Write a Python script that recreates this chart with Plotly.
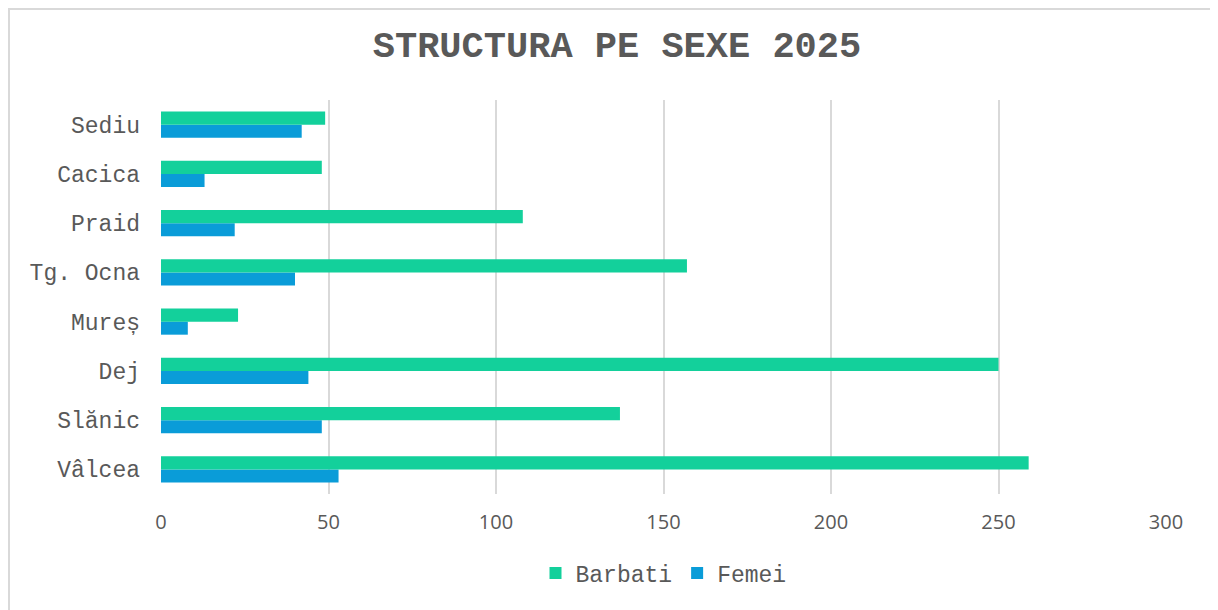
import plotly.graph_objects as go

categories = ["Vâlcea", "Slănic", "Dej", "Mureș", "Tg. Ocna", "Praid", "Cacica", "Sediu"]
barbati = [259, 137, 250, 23, 157, 108, 48, 49]
femei = [53, 48, 44, 8, 40, 22, 13, 42]
x_ticks = [0, 50, 100, 150, 200, 250, 300]

GREEN = "#13D09B"
BLUE = "#0A9CD8"
GREY = "#595959"
MONO = "Courier New, Nimbus Mono PS, FreeMono, Liberation Mono, monospace"

# page body has an 8px margin, so figure coords = screen coords - 8
W, H = 1218, 610
L, R, T, B = 153, 60, 92, 124
PW, PH = W - L - R, H - T - B

fig = go.Figure()
# horizontal bars stack bottom-up within a group, so Femei goes first
fig.add_trace(go.Bar(
    y=categories, x=femei, name="Femei", orientation="h",
    marker=dict(color=BLUE, line=dict(width=0)), legendrank=2,
))
fig.add_trace(go.Bar(
    y=categories, x=barbati, name="Barbati", orientation="h",
    marker=dict(color=GREEN, line=dict(width=0)), legendrank=1,
))

fig.update_layout(
    width=W, height=H,
    paper_bgcolor="white", plot_bgcolor="white",
    margin=dict(l=L, r=R, t=T, b=B, autoexpand=False),
    barmode="group", bargap=0.47, bargroupgap=0,
    title=dict(
        text="<b>STRUCTURA PE SEXE 2025</b>",
        x=0.5, xanchor="center", y=1 - 36 / H, yanchor="middle",
        font=dict(family=MONO, size=37, color=GREY),
    ),
    legend=dict(
        orientation="h", x=0.5, xanchor="center",
        yref="container", y=1 - 565 / H, yanchor="middle",
        font=dict(family=MONO, size=23, color=GREY),
        itemwidth=30, traceorder="normal",
    ),
    shapes=[dict(
        type="rect", xref="paper", yref="paper",
        x0=(1 - L) / PW, x1=(1207 - L) / PW,
        y0=(PH + T - H - 20) / PH, y1=(PH + T - 1) / PH,
        line=dict(color="#D9D9D9", width=2), layer="below",
    )],
)
fig.update_xaxes(
    range=[0, 300], tickvals=x_ticks, automargin=False,
    showgrid=True, gridcolor="#D9D9D9", gridwidth=2,
    zeroline=False, showline=False,
    tickfont=dict(family="Open Sans, sans-serif", size=20, color=GREY),
    ticklabelstandoff=14,
)
fig.update_yaxes(
    automargin=False,
    showgrid=False, zeroline=False, showline=False,
    tickfont=dict(family=MONO, size=23, color=GREY),
    ticklabelstandoff=20,
)

fig.write_html("out.html")
